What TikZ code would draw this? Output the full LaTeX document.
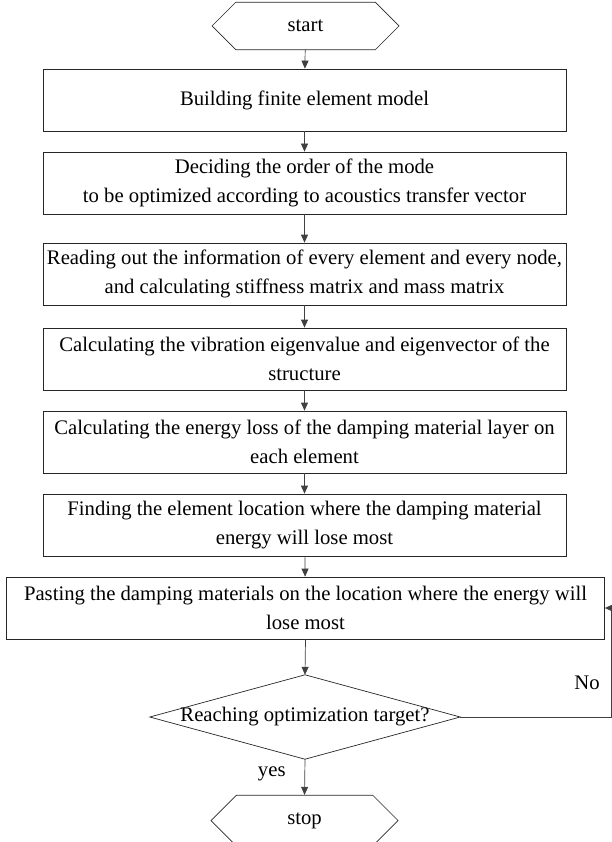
\documentclass[tikz,border=0pt]{standalone}
\usepackage{fontspec}
\setmainfont{Liberation Serif}
\usetikzlibrary{shapes, arrows.meta, positioning}

\begin{document}
\begin{tikzpicture}[x=1pt, y=-1pt]
  \fontsize{20.7}{29}\selectfont
  \useasboundingbox (0, 0) rectangle (612, 842);

  \tikzset{flow/.style={->, >={Triangle[length=8pt, width=7pt]}, draw=black!75, line width=0.7pt}}
  \tikzset{stepbox/.style={draw=black!85, line width=0.7pt, minimum height=62pt, minimum width=523pt, align=center, inner sep=2pt}}
  \tikzset{wideststepbox/.style={stepbox, minimum width=598pt}}
  \tikzset{terminal/.style={chamfered rectangle, chamfered rectangle xsep=20pt, chamfered rectangle ysep=21pt, draw=black!85, line width=0.7pt, minimum width=187pt, minimum height=42pt, inner sep=0pt}}
  \tikzset{decisionarea/.style={minimum width=310pt, minimum height=84pt, inner sep=0pt}}

  \node[terminal] at (305.5, 26) (start) {start};

  \node[stepbox] at (304.5, 100) (model) {Building finite element model};
  \node[stepbox] at (304.5, 183) (order) {Deciding the order of the mode\\to be optimized according to acoustics transfer vector};
  \node[stepbox] at (304.5, 274) (matrix) {Reading out the information of every element and every node,\\and calculating stiffness matrix and mass matrix};
  \node[stepbox] at (304.5, 359) (eigen) {Calculating the vibration eigenvalue and eigenvector of the\\structure};
  \node[stepbox] at (304.5, 442) (loss) {Calculating the energy loss of the damping material layer on\\each element};
  \node[stepbox] at (304.5, 525) (locate) {Finding the element location where the damping material\\energy will lose most};
  \node[wideststepbox] at (305.5, 608) (paste) {Pasting the damping materials on the location where the energy will\\lose most};

  \node[decisionarea] at (305, 717) (check) {Reaching optimization target?};
  \draw[draw=black!85, line width=0.7pt] (check.north) -- (check.east) -- (check.south) -- (check.west) -- cycle;
  \node[terminal] at (304.5, 820.5) (stop) {stop};

  % main chain
  \foreach \from/\to in {start/model, model/order, order/matrix, matrix/eigen, eigen/loss, loss/locate, locate/paste}{
    \draw[flow] (\from) -- (\to);
  }
  \draw[flow] (paste.south) -- (check.north);
  \draw[flow] (check.south) -- node[left=12pt, pos=0.4] {yes} (stop.north);

  % back to pasting
  \coordinate (backturn) at (611, 717);
  \draw[flow] (check.east) -- (backturn) |- (paste.east);
  \node at (587, 683) (nolbl) {No};
\end{tikzpicture}
\end{document}
